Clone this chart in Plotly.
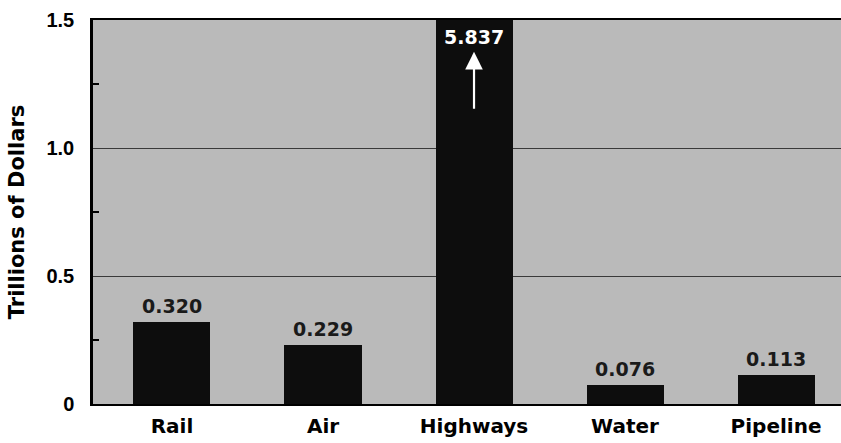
import plotly.graph_objects as go

categories = ["Rail", "Air", "Highways", "Water", "Pipeline"]
values = [0.320, 0.229, 5.837, 0.076, 0.113]
value_labels = ["0.320", "0.229", "5.837", "0.076", "0.113"]
y_tickvals = [0, 0.5, 1.0, 1.5]
y_ticktext = ["0", "0.5", "1.0", "1.5"]
y_max = 1.5

FONT = "DejaVu Sans, Liberation Sans, Arial, sans-serif"
TICKFONT = "Liberation Sans, Arial, Helvetica, sans-serif"

fig = go.Figure()
fig.add_trace(go.Bar(
    x=categories, y=values, width=0.51,
    marker=dict(color="#0d0d0d", line=dict(width=0)),
    hoverinfo="skip",
))

annotations = []
for cat, v, lab in zip(categories, values, value_labels):
    if v <= y_max:
        annotations.append(dict(
            x=cat, y=v, text=lab, showarrow=False, yanchor="bottom", yshift=3,
            font=dict(family=FONT, size=19, color="#1a1a1a", weight="bold"),
        ))
    else:
        annotations.append(dict(
            x=cat, y=y_max, text=lab, showarrow=False, yanchor="top", yshift=-4,
            font=dict(family=FONT, size=19, color="white", weight="bold"),
        ))
        annotations.append(dict(
            x=cat, y=y_max * 0.917, ax=cat, ay=y_max * 0.765,
            xref="x", yref="y", axref="x", ayref="y",
            showarrow=True, arrowhead=2, arrowsize=1.6, arrowwidth=2.2,
            arrowcolor="white", text="",
        ))

fig.update_layout(
    width=841, height=443,
    margin=dict(l=93, r=0, t=20, b=39),
    paper_bgcolor="white",
    plot_bgcolor="#bababa",
    showlegend=False,
    bargap=0,
    annotations=annotations,
    font=dict(family=FONT, color="black"),
)
fig.update_xaxes(
    type="category", range=[-0.523, 4.43],
    showline=True, linecolor="black", linewidth=2, mirror=True,
    showgrid=False, ticks="",
    tickfont=dict(family=FONT, size=20, color="black", weight="bold"),
    ticklabelstandoff=3,
)
fig.update_yaxes(
    range=[0, y_max], tickvals=y_tickvals, ticktext=y_ticktext,
    showline=True, linecolor="black", linewidth=2.5,
    showgrid=True, gridcolor="#3a3a3a", gridwidth=1,
    zeroline=False, ticks="",
    tickfont=dict(family=TICKFONT, size=20, color="black", weight="bold"),
    ticklabelstandoff=12,
    minor=dict(tickvals=[0.25, 0.75, 1.25], ticks="inside", ticklen=6,
               tickcolor="black", tickwidth=1.5, showgrid=False),
    title=dict(text="Trillions of Dollars", standoff=17,
               font=dict(family=FONT, size=21, color="black", weight="bold")),
)

fig.write_html("out.html", config={"displayModeBar": False},
               post_script="document.body.style.margin='0';document.body.style.overflow='hidden';")
